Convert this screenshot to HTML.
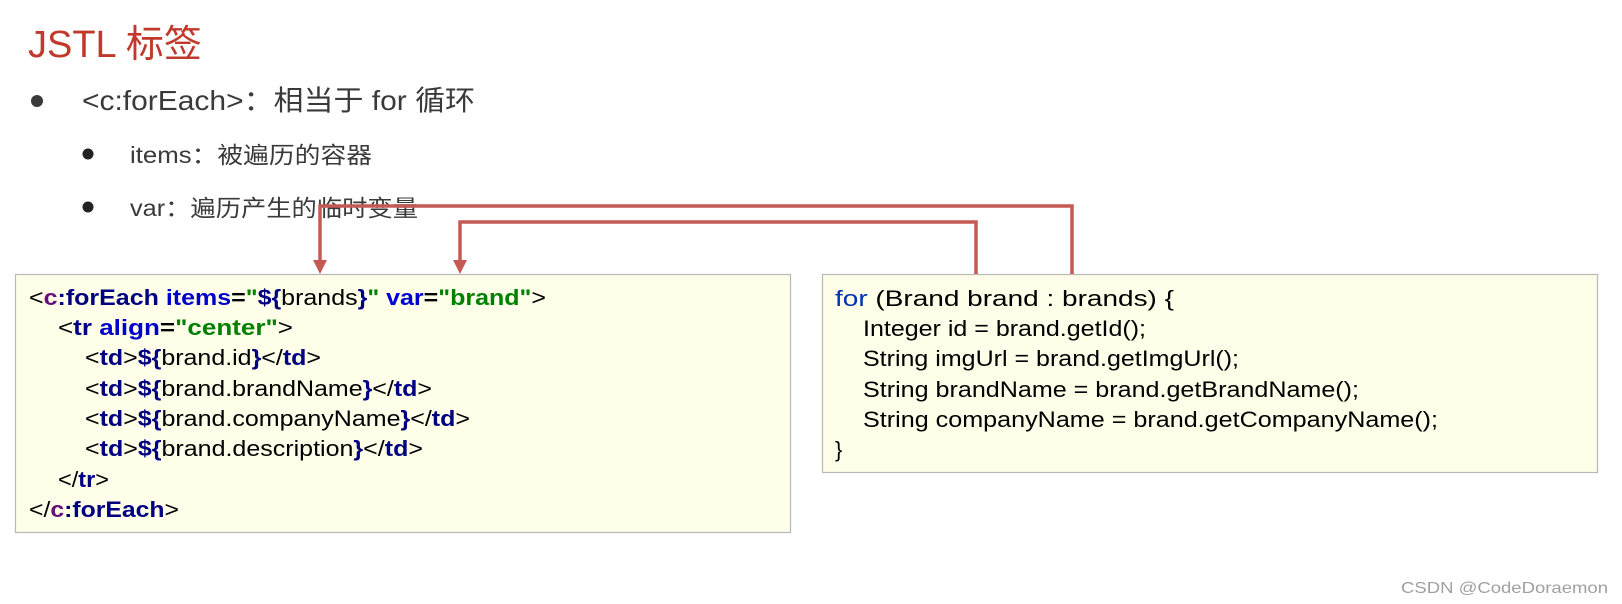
<!DOCTYPE html>
<html><head><meta charset="utf-8"><style>
html,body{margin:0;padding:0;background:#fff;}
svg{display:block;}
.c{font-family:"Liberation Sans",Arial,sans-serif;font-size:22px;fill:#000;}
.b{font-weight:bold;}
.n{fill:#000080;font-weight:bold;}
.p{fill:#660e7a;font-weight:bold;}
.bl{fill:#0000cc;font-weight:bold;}
.g{fill:#008000;font-weight:bold;}
.h{font-family:"Liberation Sans","Noto Sans CJK SC",sans-serif;fill:#3a3a3a;}
</style></head><body>
<svg width="1622" height="604" viewBox="0 0 1622 604" xmlns="http://www.w3.org/2000/svg">
<text x="28" y="57" font-family="Liberation Sans,Noto Sans CJK SC,sans-serif" font-size="38" fill="#c0392b">JSTL 标签</text>
<circle cx="37" cy="101" r="6" fill="#3a3a3a"/>
<text class="h" x="82" y="110" font-size="28" textLength="393" lengthAdjust="spacingAndGlyphs">&lt;c:forEach&gt;：相当于 for 循环</text>
<circle cx="88" cy="154" r="5.5" fill="#222"/>
<text class="h" x="130" y="163" font-size="23" textLength="242" lengthAdjust="spacingAndGlyphs">items：被遍历的容器</text>
<circle cx="88" cy="207" r="5.5" fill="#222"/>
<text class="h" x="130" y="216" font-size="23" textLength="288" lengthAdjust="spacingAndGlyphs">var：遍历产生的临时变量</text>

<rect x="15.5" y="274.5" width="775" height="258" fill="#fefee9" stroke="#b8b8b8" stroke-width="1.2"/>
<rect x="822.5" y="274.5" width="775" height="198" fill="#fefee9" stroke="#b8b8b8" stroke-width="1.2"/>

<g stroke="#c55a55" stroke-width="3.5" fill="none">
<polyline points="320,262 320,206 1072,206 1072,274"/>
<polyline points="460,262 460,222 976,222 976,274"/>
</g>
<polygon points="313,260 327,260 320,274" fill="#c55a55"/>
<polygon points="453,260 467,260 460,274" fill="#c55a55"/>

<g class="c">
<text x="29" y="305" textLength="517" lengthAdjust="spacingAndGlyphs">&lt;<tspan class="p">c</tspan><tspan class="n">:forEach</tspan> <tspan class="bl">items</tspan><tspan class="b">=</tspan><tspan class="g">"</tspan><tspan class="n">${</tspan>brands<tspan class="n">}</tspan><tspan class="g">"</tspan> <tspan class="bl">var</tspan><tspan class="b">=</tspan><tspan class="g">"brand"</tspan>&gt;</text>
<text x="58" y="335" textLength="235" lengthAdjust="spacingAndGlyphs">&lt;<tspan class="n">tr</tspan> <tspan class="bl">align</tspan><tspan class="b">=</tspan><tspan class="g">"center"</tspan>&gt;</text>
<text x="85" y="365" textLength="236" lengthAdjust="spacingAndGlyphs">&lt;<tspan class="n">td</tspan>&gt;<tspan class="n">${</tspan>brand.id<tspan class="n">}</tspan>&lt;/<tspan class="n">td</tspan>&gt;</text>
<text x="85" y="396" textLength="347" lengthAdjust="spacingAndGlyphs">&lt;<tspan class="n">td</tspan>&gt;<tspan class="n">${</tspan>brand.brandName<tspan class="n">}</tspan>&lt;/<tspan class="n">td</tspan>&gt;</text>
<text x="85" y="426" textLength="385" lengthAdjust="spacingAndGlyphs">&lt;<tspan class="n">td</tspan>&gt;<tspan class="n">${</tspan>brand.companyName<tspan class="n">}</tspan>&lt;/<tspan class="n">td</tspan>&gt;</text>
<text x="85" y="456" textLength="338" lengthAdjust="spacingAndGlyphs">&lt;<tspan class="n">td</tspan>&gt;<tspan class="n">${</tspan>brand.description<tspan class="n">}</tspan>&lt;/<tspan class="n">td</tspan>&gt;</text>
<text x="58" y="487" textLength="51" lengthAdjust="spacingAndGlyphs">&lt;/<tspan class="n">tr</tspan>&gt;</text>
<text x="29" y="517" textLength="150" lengthAdjust="spacingAndGlyphs">&lt;/<tspan class="p">c</tspan><tspan class="n">:forEach</tspan>&gt;</text>

<text x="835" y="306" textLength="339" lengthAdjust="spacingAndGlyphs"><tspan fill="#0033b3">for</tspan> (Brand brand : brands) {</text>
<text x="863" y="336" textLength="283" lengthAdjust="spacingAndGlyphs">Integer id = brand.getId();</text>
<text x="863" y="366" textLength="376" lengthAdjust="spacingAndGlyphs">String imgUrl = brand.getImgUrl();</text>
<text x="863" y="397" textLength="496" lengthAdjust="spacingAndGlyphs">String brandName = brand.getBrandName();</text>
<text x="863" y="427" textLength="575" lengthAdjust="spacingAndGlyphs">String companyName = brand.getCompanyName();</text>
<text x="835" y="457">}</text>
</g>
<text x="1401" y="593" font-family="Liberation Sans,sans-serif" font-size="16" fill="#a0a0a0" textLength="207" lengthAdjust="spacingAndGlyphs">CSDN @CodeDoraemon</text>
</svg>
</body></html>
